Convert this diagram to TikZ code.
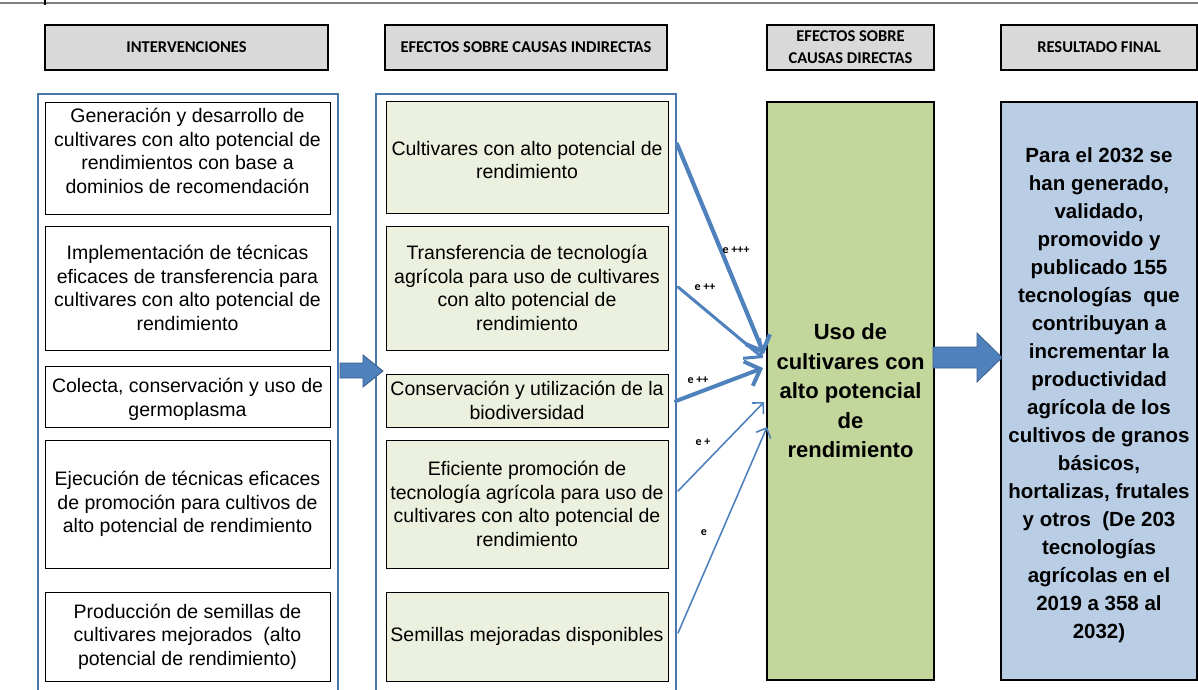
\documentclass[tikz,border=0pt]{standalone}
\usepackage{fontspec}
\setmainfont{Liberation Sans}
\newfontfamily\hdfont{Carlito}
\usetikzlibrary{arrows.meta}
\definecolor{hdgrey}{HTML}{D9D9D9}
\definecolor{boxgreen}{HTML}{EBF1DE}
\definecolor{biggreen}{HTML}{C3D69B}
\definecolor{bigblue}{HTML}{B9CDE5}
\definecolor{arrblue}{HTML}{4F81BD}
\definecolor{arrdark}{HTML}{385D8A}
\definecolor{contblue}{HTML}{4A76B0}
\tikzset{
  hdbox/.style={draw=black, line width=1.5pt, fill=hdgrey, minimum height=45, align=center,
    font=\hdfont\bfseries\fontsize{16.5}{22}\selectfont, inner sep=0pt},
  container/.style={draw=contblue, line width=2pt},
  boxtext/.style={align=center, font=\fontsize{19.5}{23.5}\selectfont, inner sep=0pt},
  lbox/.style={boxtext, draw=black, line width=0.9pt, fill=white, minimum width=285},
  mbox/.style={boxtext, draw=black, line width=0.9pt, fill=boxgreen, minimum width=282},
  bigbox/.style={draw=black, line width=2pt, minimum width=167, minimum height=578, align=center, inner sep=0pt},
  link/.style={draw=arrblue, line cap=round},
  elabel/.style={font=\hdfont\bfseries\fontsize{12}{14}\selectfont, inner sep=0pt},
  blockarrow/.style={fill=arrblue, draw=arrdark, line width=0.8pt, line join=miter}
}
\begin{document}
\begin{tikzpicture}[x=1pt,y=-1pt]
\useasboundingbox (0,0) rectangle (1198,689);
% top rule
\draw[gray, line width=1.5pt] (0,3) -- (1198,3);
\draw[black, line width=1.5pt] (45,0) -- (45,5);

% headers
\node[hdbox, minimum width=283] (h1) at (186.5,47.5) {INTERVENCIONES};
\node[hdbox, minimum width=282] (h2) at (526,47.5) {EFECTOS SOBRE CAUSAS INDIRECTAS};
\node[hdbox, minimum width=167] (h3) at (850.5,47.5) {EFECTOS SOBRE\\CAUSAS DIRECTAS};
\node[hdbox, minimum width=196] (h4) at (1099,47.5) {RESULTADO FINAL};

% containers
\node[container, minimum width=300, minimum height=610] (cl) at (188,399) {};
\node[container, minimum width=300, minimum height=610] (cm) at (526,399) {};

% left boxes
\node[lbox, minimum height=112] (l1) at (187.5,158) {};
\node[boxtext] (l1t) at ([yshift=7pt]l1.center) {Generación y desarrollo de\\cultivares con alto potencial de\\rendimientos con base a\\dominios de recomendación};
\node[lbox, minimum height=124] (l2) at (187.5,288) {Implementación de técnicas\\eficaces de transferencia para\\cultivares con alto potencial de\\rendimiento};
\node[lbox, minimum height=61] (l3) at (187.5,396.5) {};
\node[boxtext] (l3t) at ([yshift=-3pt]l3.center) {Colecta, conservación y uso de\\germoplasma};
\node[lbox, minimum height=128] (l4) at (187.5,504) {Ejecución de técnicas eficaces\\de promoción para cultivos de\\alto potencial de rendimiento};
\node[lbox, minimum height=89] (l5) at (187.5,636.5) {Producción de semillas de\\cultivares mejorados\ \ (alto\\potencial de rendimiento)};

% middle boxes
\node[mbox, minimum height=112] (m1) at (527,157) {};
\node[boxtext] (m1t) at ([yshift=-3pt]m1.center) {Cultivares con alto potencial de\\rendimiento};
\node[mbox, minimum height=124] (m2) at (527,288) {Transferencia de tecnología\\agrícola para uso de cultivares\\con alto potencial de\\rendimiento};
\node[mbox, minimum height=53] (m3) at (527,400.5) {Conservación y utilización de la\\biodiversidad};
\node[mbox, minimum height=128] (m4) at (527,504) {Eficiente promoción de\\tecnología agrícola para uso de\\cultivares con alto potencial de\\rendimiento};
\node[mbox, minimum height=89] (m5) at (527,636.5) {Semillas mejoradas disponibles};

% big boxes
\node[bigbox, fill=biggreen, font=\bfseries\fontsize{22}{29.5}\selectfont] (g) at (850.5,391)
  {Uso de\\cultivares con\\alto potencial\\de\\rendimiento};
\node[bigbox, minimum width=196, fill=bigblue] (b) at (1099,391) {};
\node[align=center, inner sep=0pt, font=\bfseries\fontsize{20.5}{28}\selectfont] (bt) at ([yshift=-4pt]b.center)
  {Para el 2032 se\\han generado,\\validado,\\promovido y\\publicado 155\\tecnologías\ \ que\\contribuyan a\\incrementar la\\productividad\\agrícola de los\\cultivos de granos\\básicos,\\hortalizas, frutales\\y otros\ \ (De 203\\tecnologías\\agrícolas en el\\2019 a 358 al\\2032)};

% block arrows
\draw[blockarrow] (340,363) -- (363,363) -- (363,355) -- (383,371) -- (363,387) -- (363,378) -- (340,378) -- cycle;
\draw[blockarrow] (933,347) -- (977,347) -- (977,333) -- (1002,357.5) -- (977,382) -- (977,368) -- (933,368) -- cycle;

% connector end points
\coordinate (s1) at (677,144);
\coordinate (s2) at (678,287);
\coordinate (s3) at (676,401);
\coordinate (s4) at (678,491);
\coordinate (s5) at (678,633);
\coordinate (t1) at (764,354);
\coordinate (t2) at (763,358);
\coordinate (t3) at (763,368);
\coordinate (t4) at (764,402);
\coordinate (t5) at (767,427);

\draw[link, line width=4.2pt, -{Straight Barb[length=13pt,width=26pt,line width=4.2pt]}] (s1) -- (t1);
\draw[link, line width=3pt, -{Straight Barb[length=13pt,width=26pt,line width=3pt]}] (s2) -- (t2);
\draw[link, line width=4pt, -{Straight Barb[length=13pt,width=26pt,line width=4pt]}] (s3) -- (t3);
\draw[link, line width=1.6pt, -{Straight Barb[length=8pt,width=16pt,line width=1.6pt]}] (s4) -- (t4);
\draw[link, line width=1.6pt, -{Straight Barb[length=8pt,width=16pt,line width=1.6pt]}] (s5) -- (t5);

\node[elabel] (e1) at (736,250) {e +++};
\node[elabel] (e2) at (705,287) {e ++};
\node[elabel] (e3) at (698,380) {e ++};
\node[elabel] (e4) at (703,442) {e +};
\node[elabel] (e5) at (704,533) {e};
\end{tikzpicture}
\end{document}
